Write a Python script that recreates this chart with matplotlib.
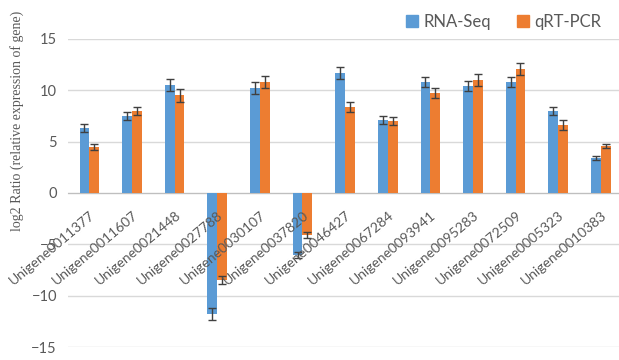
import numpy as np
import matplotlib.pyplot as plt
from matplotlib.patches import Patch
import matplotlib.transforms as mtransforms

genes = ['Unigene0011377', 'Unigene0011607', 'Unigene0021448', 'Unigene0027788',
         'Unigene0030107', 'Unigene0037820', 'Unigene0046427', 'Unigene0067284',
         'Unigene0093941', 'Unigene0095283', 'Unigene0072509', 'Unigene0005323',
         'Unigene0010383']
rnaseq = [6.3, 7.5, 10.5, -11.8, 10.2, -6.0, 11.7, 7.1, 10.8, 10.4, 10.8, 8.0, 3.4]
rnaseq_err = [0.4, 0.4, 0.6, 0.6, 0.6, 0.3, 0.6, 0.4, 0.5, 0.5, 0.5, 0.4, 0.2]
qpcr = [4.5, 8.0, 9.5, -8.5, 10.8, -4.1, 8.4, 7.0, 9.7, 11.0, 12.1, 6.6, 4.6]
qpcr_err = [0.3, 0.4, 0.6, 0.4, 0.6, 0.3, 0.5, 0.4, 0.5, 0.6, 0.6, 0.5, 0.2]

blue = '#5B9BD5'
orange = '#ED7D31'
grey_txt = '#595959'

fig = plt.figure(figsize=(6.19, 3.6), dpi=100)
ax = fig.add_axes([0.110, 0.036, 0.895, 0.856])

x = np.arange(len(genes))
w = 0.23
err_kw = dict(ecolor='#404040', elinewidth=1, capsize=3, capthick=1)
ax.bar(x - w / 2, rnaseq, w, yerr=rnaseq_err, color=blue, error_kw=err_kw, zorder=3)
ax.bar(x + w / 2, qpcr, w, yerr=qpcr_err, color=orange, error_kw=err_kw, zorder=3)

ax.set_xlim(-0.5, len(genes) - 0.5)
ax.set_ylim(-15, 15)
ax.set_yticks([-15, -10, -5, 0, 5, 10, 15])
ax.yaxis.grid(True, color='#D9D9D9', linewidth=1)
ax.set_axisbelow(True)
ax.xaxis.set_zorder(5)   # category labels sit on top of the bars
for s in ['top', 'right', 'left']:
    ax.spines[s].set_visible(False)
ax.spines['bottom'].set_position(('data', 0))
ax.spines['bottom'].set_color('#BFBFBF')
ax.spines['bottom'].set_zorder(2)

ax.tick_params(axis='both', length=0)
ax.tick_params(axis='y', labelsize=10.5, labelcolor=grey_txt, pad=8)
for lbl in ax.get_yticklabels():
    lbl.set_family('Lato')

ax.set_xticks(x)
ax.set_xticklabels(genes, rotation=40, ha='right', va='center',
                   rotation_mode='anchor', fontsize=10, color=grey_txt, family='Lato')
ax.tick_params(axis='x', pad=15)
shift = mtransforms.ScaledTranslation(3 / 72, 0, fig.dpi_scale_trans)
for lbl in ax.get_xticklabels():
    lbl.set_transform(lbl.get_transform() + shift)

fig.text(0.028, 0.665, 'log2 Ratio (relative expression of gene)', rotation=90,
         ha='center', va='center', family='Liberation Serif', fontsize=10,
         color=grey_txt)

handles = [Patch(color=blue, label='RNA-Seq'), Patch(color=orange, label='qRT-PCR')]
fig.legend(handles=handles, loc='center right', bbox_to_anchor=(0.995, 1 - 22 / 360),
           ncol=2, frameon=False, prop={'family': 'Lato', 'size': 12},
           labelcolor=grey_txt, handlelength=0.7, handleheight=0.7,
           handletextpad=0.3, columnspacing=1.6)

fig.savefig('out.png', dpi=100)
